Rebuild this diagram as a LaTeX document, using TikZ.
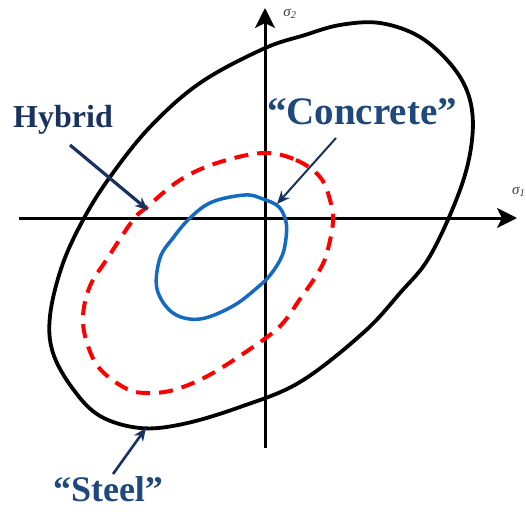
\documentclass[tikz,border=0pt]{standalone}
\usepackage{fontspec}
\setmainfont{Liberation Serif}
\usetikzlibrary{arrows.meta}
\definecolor{labblue}{RGB}{31,73,125}
\definecolor{navy}{RGB}{25,50,95}
\definecolor{curveblue}{RGB}{20,105,195}
\definecolor{siglab}{RGB}{70,60,60}
\tikzset{
  axis/.style={line width=3pt,-{Stealth[length=20pt,width=20pt,inset=5pt]}},
  steelcurve/.style={line width=3.8pt,black},
  hybridcurve/.style={line width=4pt,red,dash pattern=on 14pt off 9pt},
  concretecurve/.style={line width=3.5pt,curveblue},
  pointer/.style={navy,-{Stealth[length=13pt,width=11pt]}},
  lab/.style={text=labblue,font=\bfseries,inner sep=0pt,anchor=center},
  siglabel/.style={text=siglab,font=\itshape\fontsize{15pt}{15pt}\selectfont,inner sep=0pt}
}
\begin{document}
\begin{tikzpicture}[x=1pt,y=-1pt]
\useasboundingbox (0,0) rectangle (526,511);
% axes
\coordinate (xs) at (19,218);
\coordinate (xe) at (517,218);
\coordinate (ys) at (265,448);
\coordinate (ye) at (265,8);
\draw[axis] (xs) -- (xe);
\draw[axis] (ys) -- (ye);
\node[siglabel] (s2) at (290,14) {σ\textsubscript{2}};
\node[siglabel,anchor=west] (s1) at (512,192) {σ\textsubscript{1}};
% steel
\draw[steelcurve] plot[smooth cycle,tension=0.6] coordinates {
(340,25) (380,23) (420,37) (453,67) (470,100) (472,140) (460,190)
(430,256) (400,293) (363,333) (300,382) (240,407) (183,424) (140,428)
(100,416) (73,389) (53,353) (50,316) (62,266) (83,220) (110,177) (150,127)
(200,83) (263,49) (305,35)};
% hybrid
\draw[hybridcurve] plot[smooth cycle,tension=0.6] coordinates {
(263,153) (296,160) (320,177) (330,200) (333,222) (326,256) (316,276) (300,299)
(283,323) (263,340) (213,373) (177,389) (150,393) (127,389) (100,369) (87,343)
(83,316) (90,286) (107,259) (133,220) (147,207) (180,180) (217,163)};
% concrete
\draw[concretecurve] plot[smooth cycle,tension=0.6] coordinates {
(245,195) (263,199) (279,207) (286,222) (286,238) (282,256) (271,274) (258,287)
(233,306) (200,319) (173,313) (157,289) (160,258) (173,238) (190,218) (212,202)};
% labels
\node[lab,font=\bfseries\fontsize{32pt}{32pt}\selectfont,text=navy] (hyb) at (63,120) {Hybrid};
\node[lab,font=\bfseries\fontsize{39pt}{39pt}\selectfont] (con) at (362,112) {“Concrete”};
\node[lab,font=\bfseries\fontsize{36pt}{36pt}\selectfont] (stl) at (108,489) {“Steel”};
% pointers
\coordinate (hybA) at (70,145);
\coordinate (hybB) at (148,210);
\coordinate (conA) at (336,138);
\coordinate (conB) at (277,204);
\coordinate (stlA) at (113,474);
\coordinate (stlB) at (146,428);
\draw[pointer,line width=3.2pt] (hybA) -- (hybB);
\draw[pointer,line width=2pt] (conA) -- (conB);
\draw[pointer,line width=2.6pt] (stlA) -- (stlB);
\end{tikzpicture}
\end{document}
